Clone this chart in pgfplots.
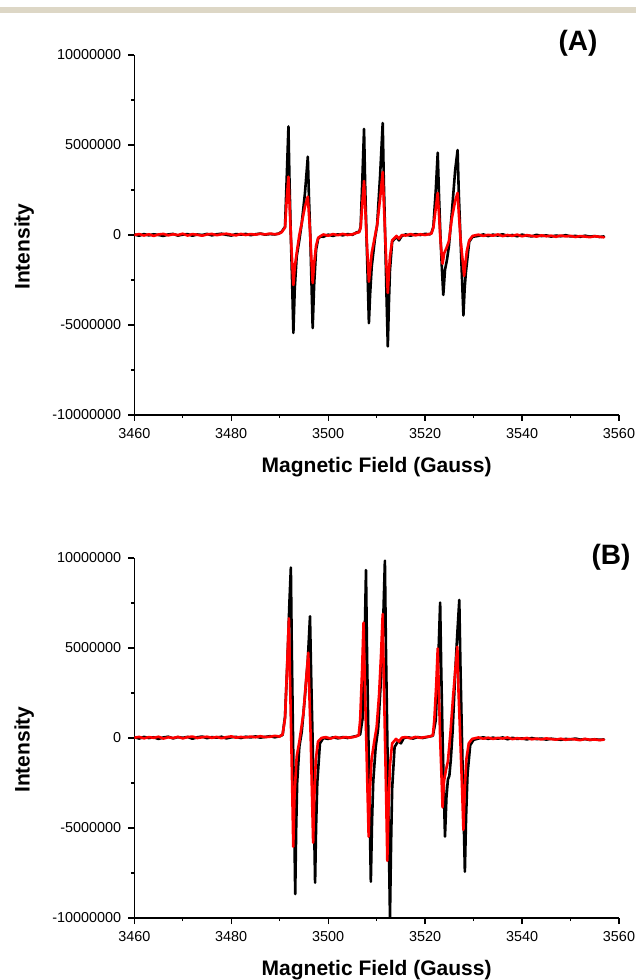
\documentclass[border=0pt]{standalone}
\usepackage{pgfplots}
\pgfplotsset{compat=1.18}
\usepackage{fontspec}
\setmainfont{Liberation Sans}
\definecolor{beige}{HTML}{DDD7C6}
\pgfplotsset{myaxis/.style={
  scale only axis, width=242.35pt, height=180pt,
  anchor=south west,
  xmin=3460, xmax=3560, ymin=-10, ymax=10,
  axis lines*=left,
  axis line style={line width=0.65pt},
  every tick/.style={black, line width=0.65pt},
  tick align=outside,
  major tick length=3pt, minor tick length=1.6pt,
  xtick={3460,3480,...,3560}, minor x tick num=1,
  ytick={-10,-5,0,5,10}, minor y tick num=1,
  yticklabels={-10000000,-5000000,0,5000000,10000000},
  scaled ticks=false,
  /pgf/number format/assume math mode=true,
  /pgf/number format/1000 sep={},
  tick label style={font=\fontsize{7.2}{8}\selectfont},
  xlabel={Magnetic Field (Gauss)},
  ylabel={Intensity},
  every axis x label/.style={at={(axis description cs:0.5,-0.146)}, anchor=center, font=\fontsize{10.5}{12}\selectfont\bfseries},
  every axis y label/.style={at={(axis description cs:-0.227,0.468)}, anchor=center, rotate=90, font=\fontsize{10.5}{12}\selectfont\bfseries},
  clip=true,
  every axis plot/.append style={line join=round, line cap=round},
}}
\begin{document}
\begin{tikzpicture}[x=1pt,y=1pt]
\useasboundingbox (0,0) rectangle (318,490);
\fill[beige] (0,483.5) rectangle (318,486.5);
% ---------------- Panel A ----------------
\begin{axis}[myaxis, at={(67.15pt,282.5pt)}]
\addplot[black, line width=1.3pt] coordinates {
(3460,0.03)(3461,-0.04)(3462,0.05)(3463,-0.02)(3464,0.04)(3465,0.0)(3466,-0.05)(3467,0.03)(3468,0.06)(3469,-0.03)
(3470,0.02)(3471,0.05)(3472,-0.04)(3473,0.03)(3474,0.0)(3475,0.06)(3476,-0.02)(3477,0.04)(3478,0.07)(3479,0.01)
(3480,-0.03)(3481,0.05)(3482,0.02)(3483,0.06)(3484,-0.01)(3485,0.04)(3486,0.08)(3487,0.02)(3488,0.05)(3489,0.03)(3489.8,0.08)
(3490.4,0.18)(3491.1,0.46)(3491.45,3.2)(3491.8,6.03)(3492.02,3.0)(3492.29,0.0)(3492.57,-2.7)(3492.82,-5.44)
(3493.1,-3.0)(3493.5,-1.2)(3494.05,-0.28)(3494.55,0.66)(3495.2,2.3)(3495.8,4.35)(3496.02,2.2)(3496.3,0.0)
(3496.55,-2.6)(3496.8,-5.17)(3497.1,-2.8)(3497.5,-0.83)(3497.95,-0.18)(3498.5,-0.08)
(3499,-0.1)(3500,0.02)(3501,-0.05)(3502,0.04)(3503,-0.02)(3504,0.05)(3505,0.01)(3505.9,0.15)(3506.4,0.18)
(3506.7,0.45)(3507.05,3.1)(3507.4,5.89)(3507.62,2.9)(3507.9,0.0)(3508.15,-2.4)(3508.4,-4.9)(3508.65,-3.3)
(3508.98,-1.76)(3509.66,-0.18)(3510.1,0.55)(3510.7,3.24)(3511.25,6.22)(3511.47,3.1)(3511.75,0.0)(3512.0,-3.0)
(3512.3,-6.19)(3512.55,-3.6)(3512.75,-1.94)(3513.2,-0.37)(3514.1,-0.1)(3514.6,-0.3)(3515.2,-0.05)
(3516,0.03)(3517,-0.04)(3518,0.05)(3519,0.0)(3520,0.06)(3521,0.04)(3521.3,0.1)
(3521.7,0.46)(3522.2,2.5)(3522.6,4.57)(3522.85,2.3)(3523.15,0.0)(3523.45,-1.8)(3523.75,-3.33)(3524.1,-1.94)
(3524.5,-1.39)(3524.9,-0.65)(3525.5,1.2)(3526.2,3.6)(3526.7,4.72)(3526.95,2.3)(3527.3,-0.2)(3527.6,-2.3)
(3527.9,-4.47)(3528.15,-3.0)(3528.4,-2.1)(3529.1,-0.37)(3529.8,-0.1)
(3531,-0.05)(3532,0.03)(3533,-0.06)(3534,0.02)(3535,-0.03)(3536,0.04)(3537,-0.05)(3538,0.0)(3539,-0.07)(3540,0.02)
(3541,-0.04)(3542,-0.08)(3543,0.01)(3544,-0.06)(3545,-0.02)(3546,-0.09)(3547,-0.03)(3548,-0.07)(3549,-0.01)(3550,-0.08)
(3551,-0.05)(3552,-0.1)(3553,-0.04)(3554,-0.09)(3555,-0.06)(3556,-0.11)(3556.9,-0.08)
};
\addplot[red, line width=1.3pt] coordinates {
(3460,0.0)(3461,0.05)(3462,-0.03)(3463,0.04)(3464,-0.05)(3465,0.03)(3466,0.06)(3467,-0.02)(3468,0.04)(3469,0.0)
(3470,0.07)(3471,-0.03)(3472,0.05)(3473,0.01)(3474,-0.04)(3475,0.03)(3476,0.06)(3477,-0.01)(3478,0.04)(3479,0.07)
(3480,0.02)(3481,-0.02)(3482,0.06)(3483,0.0)(3484,0.05)(3485,0.02)(3486,0.07)(3487,0.03)(3488,0.08)(3489,0.04)(3489.8,0.07)
(3490.4,0.15)(3491.1,0.42)(3491.45,2.0)(3491.8,3.24)(3492.02,1.8)(3492.29,0.0)(3492.57,-1.5)(3492.82,-2.78)
(3493.1,-1.8)(3493.5,-1.0)(3494.05,0.0)(3494.55,0.66)(3495.2,1.57)(3495.8,2.13)(3496.02,1.2)(3496.3,0.0)
(3496.55,-1.4)(3496.8,-2.67)(3497.1,-1.6)(3497.5,-0.6)(3497.95,-0.15)(3498.5,-0.05)
(3499,0.03)(3500,-0.04)(3501,0.05)(3502,-0.01)(3503,0.06)(3504,0.0)(3505,0.04)(3505.9,0.12)(3506.4,0.16)
(3506.7,0.4)(3507.05,1.8)(3507.4,3.0)(3507.62,1.7)(3507.9,0.0)(3508.15,-1.3)(3508.4,-2.59)(3508.65,-1.9)
(3508.98,-1.0)(3509.66,-0.05)(3510.1,0.55)(3510.7,2.0)(3511.25,3.5)(3511.47,1.9)(3511.75,0.0)(3512.0,-1.6)
(3512.3,-3.22)(3512.55,-2.0)(3512.75,-1.2)(3513.2,-0.3)(3514.1,-0.05)(3514.6,-0.2)(3515.2,0.0)
(3516,-0.03)(3517,0.05)(3518,-0.02)(3519,0.04)(3520,0.0)(3521,0.06)(3521.3,0.08)
(3521.7,0.4)(3522.2,1.5)(3522.6,2.34)(3522.85,1.2)(3523.1,0.0)(3523.35,-0.9)(3523.6,-1.6)(3523.95,-1.0)
(3524.4,-0.73)(3524.9,-0.35)(3525.5,0.9)(3526.2,1.9)(3526.7,2.34)(3526.95,1.2)(3527.3,-0.2)(3527.7,-1.3)
(3528.05,-2.27)(3528.3,-1.6)(3528.6,-0.9)(3529.1,-0.3)(3529.8,-0.05)
(3531,0.02)(3532,-0.05)(3533,0.01)(3534,-0.04)(3535,0.03)(3536,-0.06)(3537,0.0)(3538,-0.05)(3539,0.02)(3540,-0.07)
(3541,-0.01)(3542,-0.05)(3543,-0.09)(3544,-0.02)(3545,-0.07)(3546,-0.04)(3547,-0.1)(3548,-0.03)(3549,-0.08)(3550,-0.05)
(3551,-0.11)(3552,-0.06)(3553,-0.09)(3554,-0.12)(3555,-0.07)(3556,-0.1)(3556.9,-0.13)
};
\end{axis}
% ---------------- Panel B ----------------
\begin{axis}[myaxis, at={(67.15pt,31pt)}]
\addplot[black, line width=1.3pt] coordinates {
(3460,0.05)(3461,-0.03)(3462,0.06)(3463,0.0)(3464,0.04)(3465,-0.05)(3466,0.03)(3467,0.07)(3468,-0.02)(3469,0.05)
(3470,0.01)(3471,0.06)(3472,-0.04)(3473,0.04)(3474,0.08)(3475,-0.01)(3476,0.05)(3477,0.02)(3478,0.07)(3479,-0.02)
(3480,0.04)(3481,0.06)(3482,0.0)(3483,0.07)(3484,0.03)(3485,0.09)(3486,0.02)(3487,0.06)(3488,0.1)(3489,0.04)(3490,0.1)
(3490.6,0.17)(3491.1,1.18)(3491.6,4.33)(3492.0,7.5)(3492.3,9.47)(3492.5,4.8)(3492.75,0.0)(3492.98,-4.3)(3493.2,-8.67)
(3493.4,-5.0)(3493.6,-2.5)(3494.05,-0.48)(3494.55,0.35)(3495.2,2.3)(3495.8,4.33)(3496.25,6.76)(3496.5,3.3)
(3496.78,0.0)(3497.05,-4.0)(3497.3,-8.04)(3497.5,-5.0)(3497.75,-2.5)(3498.3,-0.3)(3499.0,0.0)
(3500,-0.05)(3501,0.04)(3502,-0.02)(3503,0.05)(3504,0.0)(3505,0.06)(3506,0.12)(3506.6,0.2)
(3507.1,1.1)(3507.5,5.0)(3507.8,9.33)(3508.02,4.6)(3508.3,0.0)(3508.55,-4.0)(3508.8,-7.98)(3509.05,-4.6)
(3509.3,-2.4)(3509.8,-0.5)(3510.3,0.5)(3510.9,3.3)(3511.3,6.0)(3511.7,9.85)(3511.92,4.9)(3512.2,0.0)
(3512.47,-5.0)(3512.75,-9.96)(3512.98,-5.8)(3513.2,-2.8)(3513.7,-0.5)(3514.5,-0.15)(3515.0,-0.3)(3515.6,0.0)
(3516.5,0.04)(3517.5,-0.03)(3518.5,0.05)(3519.5,0.0)(3520.5,0.06)(3521.6,0.12)
(3522.2,1.0)(3522.7,4.2)(3523.1,7.52)(3523.33,3.7)(3523.6,0.0)(3523.85,-2.8)(3524.1,-5.48)(3524.4,-3.3)
(3524.7,-2.3)(3525.0,-2.1)(3525.3,-1.2)(3525.7,0.5)(3526.2,3.6)(3526.6,5.6)(3527.05,7.67)(3527.3,3.8)
(3527.6,0.0)(3527.9,-3.7)(3528.2,-7.43)(3528.45,-4.4)(3528.75,-2.0)(3529.3,-0.4)(3530.0,-0.1)
(3531,-0.03)(3532,0.04)(3533,-0.05)(3534,0.02)(3535,-0.04)(3536,0.03)(3537,-0.07)(3538,0.01)(3539,-0.05)(3540,-0.02)
(3541,-0.08)(3542,0.0)(3543,-0.06)(3544,-0.03)(3545,-0.09)(3546,-0.04)(3547,-0.07)(3548,-0.1)(3549,-0.05)(3550,-0.08)
(3551,-0.03)(3552,-0.09)(3553,-0.06)(3554,-0.11)(3555,-0.07)(3556,-0.1)(3556.9,-0.08)
};
\addplot[red, line width=1.3pt] coordinates {
(3460,0.02)(3461,0.06)(3462,-0.02)(3463,0.05)(3464,0.01)(3465,0.07)(3466,-0.03)(3467,0.04)(3468,0.0)(3469,0.06)
(3470,-0.02)(3471,0.05)(3472,0.08)(3473,0.0)(3474,0.04)(3475,0.07)(3476,0.01)(3477,0.06)(3478,-0.01)(3479,0.05)
(3480,0.09)(3481,0.02)(3482,0.06)(3483,0.03)(3484,0.08)(3485,0.04)(3486,0.1)(3487,0.05)(3488,0.07)(3489,0.12)(3490,0.08)
(3490.6,0.2)(3491.1,1.1)(3491.5,3.8)(3491.9,6.65)(3492.12,3.4)(3492.38,0.0)(3492.6,-3.1)(3492.8,-6.04)
(3493.05,-3.2)(3493.5,-1.04)(3494.05,-0.2)(3494.9,1.37)(3495.5,3.4)(3495.9,4.74)(3496.12,2.4)(3496.4,0.0)
(3496.65,-3.0)(3496.9,-5.82)(3497.15,-3.2)(3497.45,-1.2)(3497.9,-0.2)(3498.6,0.0)
(3499.5,0.05)(3500.5,-0.03)(3501.5,0.06)(3502.5,0.0)(3503.5,0.05)(3504.5,0.02)(3505.5,0.07)(3506.3,0.15)
(3506.6,1.0)(3507.0,3.8)(3507.3,6.41)(3507.55,3.2)(3507.85,0.0)(3508.1,-2.8)(3508.35,-5.48)(3508.6,-3.0)
(3508.95,-1.2)(3509.5,-0.2)(3510.0,0.6)(3510.5,2.4)(3510.9,4.6)(3511.25,6.89)(3511.47,3.4)(3511.72,0.0)
(3511.97,-3.4)(3512.2,-6.82)(3512.45,-3.8)(3512.75,-1.5)(3513.2,-0.3)(3514.0,-0.05)(3514.6,-0.2)(3515.2,0.02)
(3516,0.05)(3517,-0.02)(3518,0.06)(3519,0.01)(3520,0.05)(3521,0.09)(3521.6,0.15)
(3521.9,1.0)(3522.3,3.0)(3522.6,4.98)(3522.85,2.5)(3523.1,0.0)(3523.35,-1.9)(3523.6,-3.85)(3523.9,-2.4)
(3524.3,-1.78)(3524.7,-1.3)(3525.2,0.2)(3525.8,2.4)(3526.3,4.0)(3526.65,5.07)(3526.9,2.5)(3527.25,0.0)
(3527.6,-2.6)(3527.9,-5.11)(3528.15,-3.0)(3528.5,-1.2)(3529.0,-0.3)(3529.7,-0.05)
(3531,0.03)(3532,-0.04)(3533,0.02)(3534,-0.05)(3535,0.01)(3536,-0.03)(3537,0.03)(3538,-0.06)(3539,-0.01)(3540,-0.05)
(3541,0.0)(3542,-0.07)(3543,-0.03)(3544,-0.08)(3545,-0.02)(3546,-0.06)(3547,-0.09)(3548,-0.04)(3549,-0.1)(3550,-0.06)
(3551,-0.08)(3552,-0.12)(3553,-0.05)(3554,-0.1)(3555,-0.08)(3556,-0.12)(3556.9,-0.09)
};
\end{axis}
\node[font=\fontsize{14}{16}\selectfont\bfseries] at (289,468.5) {(A)};
\node[font=\fontsize{14}{16}\selectfont\bfseries] at (305.5,211.5) {(B)};
\end{tikzpicture}
\end{document}
